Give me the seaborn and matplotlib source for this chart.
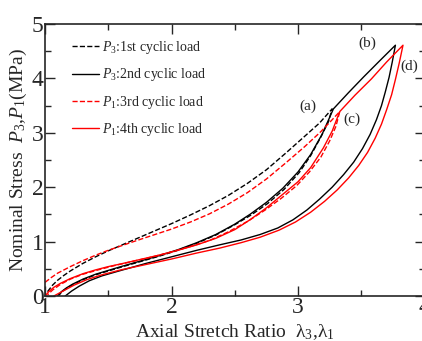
import numpy as np
import pandas as pd
import seaborn as sns
import matplotlib
matplotlib.use("Agg")
import matplotlib.pyplot as plt

# Cycle 1 (P3, 1st cyclic load): loading to (a), then unloading
c1_x = [1.02, 1.06, 1.10, 1.15, 1.20, 1.30, 1.40, 1.50, 1.60, 1.70, 1.83, 2.00, 2.15, 2.30,
        2.45, 2.60, 2.75, 2.90, 3.05, 3.17, 3.27,
        3.24, 3.18, 3.10, 3.01, 2.89, 2.76, 2.63, 2.50, 2.35, 2.20, 2.05, 1.90, 1.75, 1.60,
        1.50, 1.40, 1.30, 1.22, 1.17, 1.13, 1.11]
c1_y = [0.08, 0.20, 0.29, 0.38, 0.46, 0.60, 0.72, 0.83, 0.93, 1.03, 1.16, 1.33, 1.49, 1.66,
        1.85, 2.07, 2.32, 2.62, 2.93, 3.18, 3.44,
        3.20, 2.92, 2.58, 2.27, 1.96, 1.70, 1.49, 1.31, 1.12, 0.97, 0.84, 0.73, 0.63, 0.53,
        0.46, 0.39, 0.30, 0.21, 0.14, 0.07, 0.01]

# Cycle 2 (P3, 2nd cyclic load): reloading through (a) to (b), then unloading
c2_x = [1.10, 1.13, 1.17, 1.22, 1.30, 1.40, 1.50, 1.60, 1.75, 1.90, 2.05, 2.20, 2.35, 2.50,
        2.62, 2.75, 2.88, 3.00, 3.10, 3.19, 3.28, 3.40, 3.52, 3.64, 3.77,
        3.745, 3.72, 3.69, 3.66, 3.62, 3.57, 3.51, 3.44, 3.36, 3.27, 3.17, 3.07, 2.96, 2.84,
        2.70, 2.55, 2.38, 2.20, 2.00, 1.80, 1.60, 1.45, 1.35, 1.27, 1.21, 1.16]
c2_y = [0.00, 0.08, 0.15, 0.22, 0.31, 0.40, 0.47, 0.54, 0.64, 0.74, 0.85, 0.98, 1.13, 1.32,
        1.50, 1.72, 1.98, 2.28, 2.60, 2.97, 3.44, 3.74, 4.03, 4.31, 4.61,
        4.30, 4.02, 3.75, 3.50, 3.24, 2.97, 2.71, 2.46, 2.23, 2.00, 1.78, 1.58, 1.40, 1.25,
        1.13, 1.03, 0.94, 0.84, 0.72, 0.60, 0.47, 0.37, 0.28, 0.18, 0.09, 0.00]

# Cycle 3 (P1, 3rd cyclic load): loading to (c), then unloading
c3_x = [1.00, 1.05, 1.10, 1.20, 1.30, 1.40, 1.50, 1.60, 1.70, 1.83, 2.00, 2.15, 2.30, 2.45,
        2.60, 2.75, 2.90, 3.05, 3.18, 3.27, 3.33,
        3.30, 3.25, 3.18, 3.09, 2.99, 2.87, 2.74, 2.60, 2.45, 2.30, 2.15, 2.00, 1.85, 1.70,
        1.55, 1.42, 1.30, 1.20, 1.12, 1.06, 1.02]
c3_y = [0.25, 0.34, 0.42, 0.54, 0.65, 0.75, 0.84, 0.92, 1.00, 1.10, 1.23, 1.36, 1.51, 1.69,
        1.90, 2.15, 2.44, 2.74, 3.02, 3.24, 3.39,
        3.12, 2.85, 2.55, 2.28, 2.03, 1.80, 1.58, 1.37, 1.18, 1.02, 0.91, 0.81, 0.72, 0.64,
        0.56, 0.48, 0.40, 0.31, 0.21, 0.11, 0.02]

# Cycle 4 (P1, 4th cyclic load): reloading through (c) to (d), then unloading
c4_x = [1.00, 1.03, 1.07, 1.12, 1.20, 1.30, 1.40, 1.50, 1.60, 1.75, 1.90, 2.05, 2.20, 2.35,
        2.50, 2.62, 2.75, 2.88, 3.00, 3.10, 3.20, 3.27, 3.33, 3.45, 3.58, 3.70, 3.83,
        3.80, 3.77, 3.74, 3.70, 3.66, 3.61, 3.55, 3.48, 3.40, 3.31, 3.21, 3.10, 2.98, 2.85,
        2.70, 2.55, 2.38, 2.20, 2.00, 1.80, 1.60, 1.45, 1.33, 1.23, 1.15, 1.07]
c4_y = [0.00, 0.08, 0.16, 0.23, 0.32, 0.41, 0.48, 0.54, 0.59, 0.67, 0.75, 0.84, 0.94, 1.06,
        1.22, 1.40, 1.62, 1.87, 2.10, 2.36, 2.72, 3.03, 3.39, 3.69, 3.99, 4.30, 4.61,
        4.28, 3.98, 3.70, 3.42, 3.16, 2.90, 2.64, 2.40, 2.17, 1.95, 1.74, 1.54, 1.36, 1.21,
        1.08, 0.98, 0.88, 0.79, 0.68, 0.58, 0.48, 0.39, 0.30, 0.20, 0.10, 0.00]

labels = ["$P_\\mathit{3}$:1st cyclic load", "$P_\\mathit{3}$:2nd cyclic load",
          "$P_\\mathit{1}$:3rd cyclic load", "$P_\\mathit{1}$:4th cyclic load"]
peak_labels = ["(a)", "(b)", "(c)", "(d)"]
peak_pos = [(3.08, 3.48), (3.55, 4.65), (3.43, 3.24), (3.88, 4.22)]

sns.set_style("ticks")
plt.rcParams["font.family"] = ["Liberation Serif", "DejaVu Serif"]
plt.rcParams["mathtext.fontset"] = "custom"
plt.rcParams["mathtext.rm"] = "Liberation Serif"
plt.rcParams["mathtext.it"] = "Liberation Serif:italic"

fig = plt.figure(figsize=(4.22, 3.41), dpi=100)
ax = fig.add_axes([45 / 422, 45 / 341, 379.5 / 422, 272 / 341])

series = [(c1_x, c1_y, "black", "--"), (c2_x, c2_y, "black", "-"),
          (c3_x, c3_y, "red", "--"), (c4_x, c4_y, "red", "-")]
for (xs, ys, col, ls), lab in zip(series, labels):
    df = pd.DataFrame({"x": xs, "y": ys})
    sns.lineplot(data=df, x="x", y="y", sort=False, estimator=None, color=col,
                 linestyle=ls, linewidth=1.0, label=lab, ax=ax)

for t, (px, py) in zip(peak_labels, peak_pos):
    ax.text(px, py, t, fontsize=11, ha="center", va="center")

ax.set_xlim(1, 4)
ax.set_ylim(0, 5)
ax.set_xticks([1, 2, 3, 4])
ax.set_yticks([0, 1, 2, 3, 4, 5])
ax.set_xticks(np.arange(1, 4.01, 0.5), minor=True)
ax.set_yticks(np.arange(0, 5.01, 0.5), minor=True)
ax.tick_params(which="both", direction="in", top=True, right=True, width=1.0, labelsize=17, pad=1)
ax.tick_params(which="major", length=7)
ax.tick_params(which="minor", length=4)
for s in ax.spines.values():
    s.set_linewidth(1.2)

ax.set_xlabel("Axial Stretch Ratio  λ$_3$,λ$_1$", fontsize=14, labelpad=3)
ax.set_ylabel("Nominal Stress  $P_\\mathit{3}$,$P_\\mathit{1}$(MPa)", fontsize=14, labelpad=2)

ax.legend(loc="upper left", bbox_to_anchor=(0.07, 0.945), frameon=False, fontsize=10,
          handlelength=2.0, handletextpad=0.2, labelspacing=0.75, borderpad=0, borderaxespad=0)

fig.savefig("out.png", dpi=100)
